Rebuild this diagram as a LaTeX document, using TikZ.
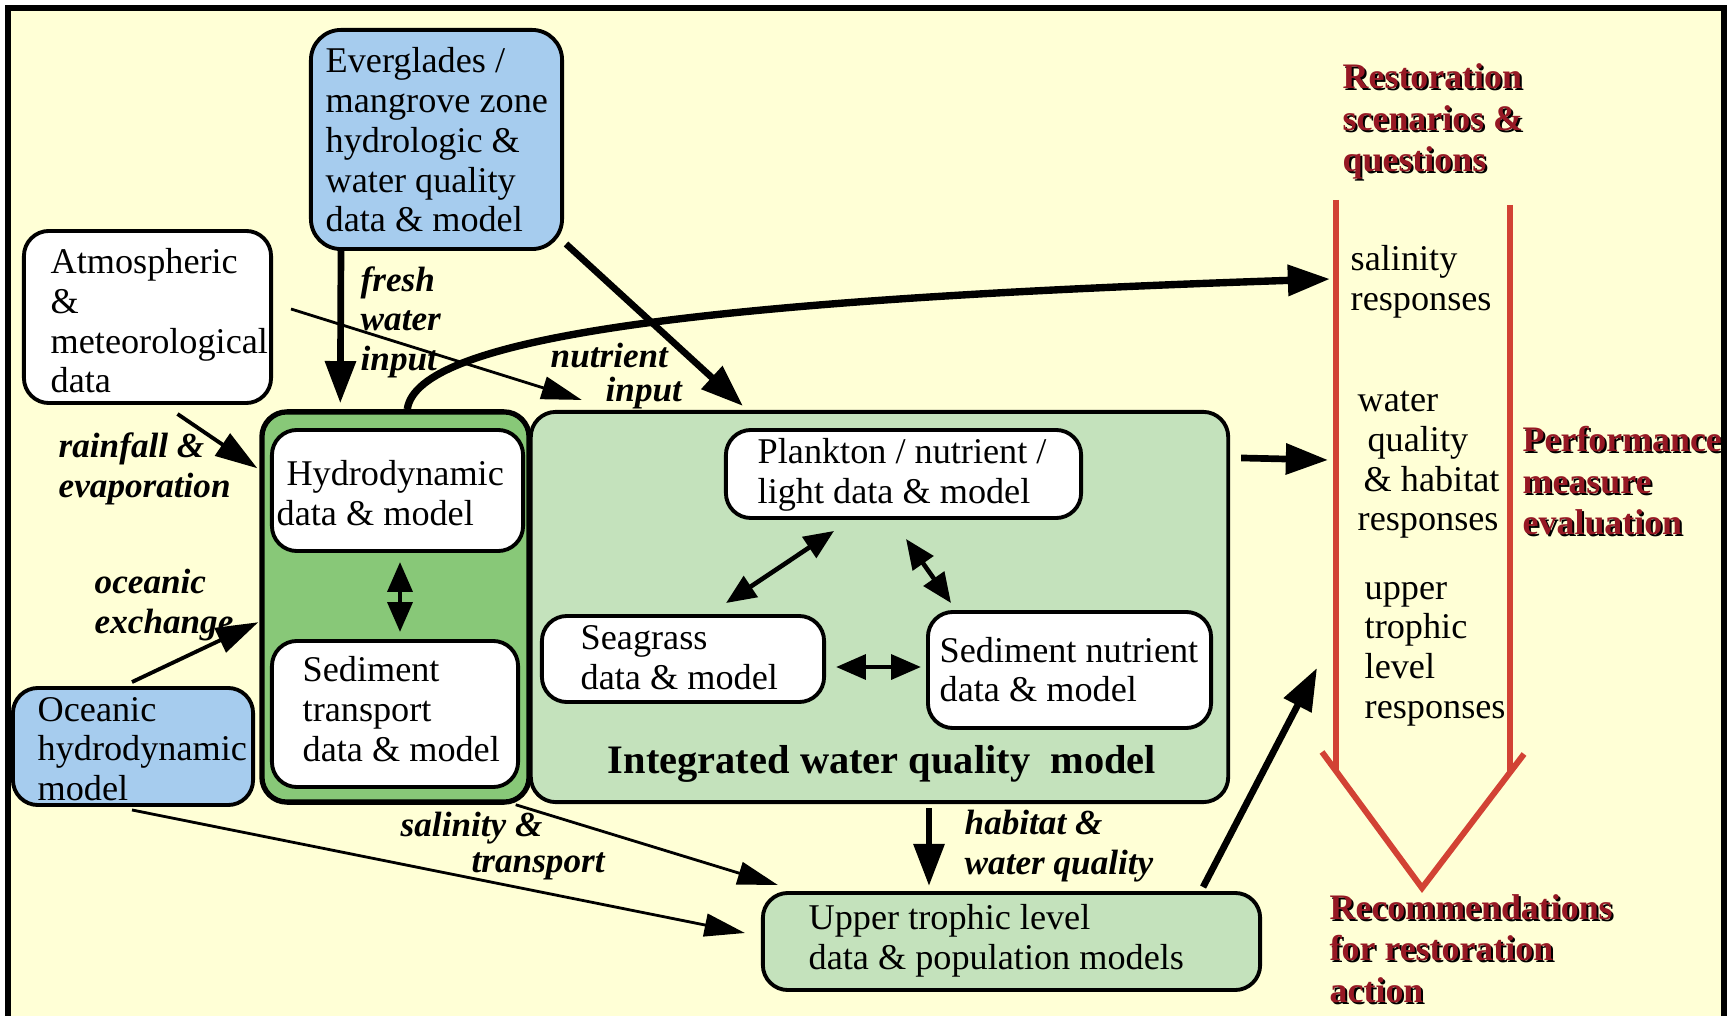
\documentclass[tikz,border=0pt]{standalone}
\usepackage{fontspec}
\setmainfont{Liberation Serif}
\usetikzlibrary{arrows.meta,calc}
\definecolor{bgY}{RGB}{255,255,214}
\definecolor{bluebox}{RGB}{166,204,238}
\definecolor{greenD}{RGB}{136,200,120}
\definecolor{greenL}{RGB}{196,226,188}
\definecolor{redA}{RGB}{210,66,52}
\definecolor{redT}{RGB}{150,24,36}
\begin{document}
\begin{tikzpicture}[x=0.01cm,y=-0.01cm,
  font=\fontsize{10.3}{11.3}\selectfont,
  box/.style={draw, line width=1.1pt, rounded corners=0.25cm, inner sep=0pt},
  txt/.style={align=left, inner sep=0pt, anchor=west},
  lab/.style={txt, font=\fontsize{10}{11.2}\selectfont\bfseries\itshape},
  redbold/.style={txt, font=\fontsize{10.2}{11.8}\selectfont\bfseries, text=redT},
  redshadow/.style={redbold, text=black},
  bigarr/.style={line width=1.9pt, -{Triangle[length=12pt,width=8.5pt]}},
  thinarr/.style={line width=0.8pt, -{Triangle[length=11.5pt,width=6.5pt]}},
  medarr/.style={line width=1.1pt, -{Triangle[length=12pt,width=7.5pt]}},
  dblarr/.style={line width=1.3pt, {Triangle[length=8.5pt,width=7pt]}-{Triangle[length=8.5pt,width=7pt]}},
  redline/.style={draw=redA, line width=1.7pt}
]
\useasboundingbox (0,0) rectangle (1728,1016);
\fill[white] (0,0) rectangle (1728,1016);
\fill[bgY] (8,8) rectangle (1724,1040);
\draw[line width=1.5pt] (8,8) rectangle (1724,1040);

% boxes
\node[box, fill=bluebox, rounded corners=0.3cm, minimum width=2.51cm, minimum height=2.19cm] (evg) at (436.5,139.5) {};
\node[txt] (evgT) at (325,140) {Everglades /\\mangrove zone\\hydrologic \&\\water quality\\data \& model};
\node[box, fill=white, minimum width=2.47cm, minimum height=1.72cm] (atm) at (147.5,317) {};
\node[txt] (atmT) at (50,321) {Atmospheric\\\&\\meteorological\\data};
\node[box, fill=greenD, line width=1.5pt, minimum width=2.67cm, minimum height=3.9cm] (hydgrp) at (395.5,607) {};
\node[box, fill=white, minimum width=2.51cm, minimum height=1.21cm] (hyd) at (397.5,490.5) {};
\node[txt] (hydT) at (276,493) {\hspace*{2.8pt}Hydrodynamic\\data \& model};
\node[box, fill=white, minimum width=2.46cm, minimum height=1.46cm] (sedt) at (395,714) {};
\node[txt] (sedtT) at (302,709) {Sediment\\transport\\data \& model};
\node[box, fill=greenL, minimum width=6.97cm, minimum height=3.9cm] (iwq) at (879.5,607) {};
\node[font=\fontsize{11.5}{13}\selectfont\bfseries, inner sep=0pt] (iwqT) at (882,764) {Integrated water quality\ \ model};
\node[box, fill=white, minimum width=3.55cm, minimum height=0.88cm] (plk) at (903.5,474) {};
\node[txt] (plkT) at (757,475) {Plankton / nutrient /\\light data \& model};
\node[box, fill=white, minimum width=2.82cm, minimum height=0.86cm] (sea) at (683,659) {};
\node[txt] (seaT) at (580,658) {Seagrass\\data \& model};
\node[box, fill=white, minimum width=2.83cm, minimum height=1.16cm] (sdn) at (1069.5,670) {};
\node[txt] (sdnT) at (939,669.5) {Sediment nutrient\\data \& model};
\node[box, fill=greenL, minimum width=4.97cm, minimum height=0.97cm] (upt) at (1011.5,941.5) {};
\node[txt] (uptT) at (808,941) {Upper trophic level\\data \& population models};
\node[box, fill=bluebox, minimum width=2.40cm, minimum height=1.17cm] (ocn) at (133,746.5) {};
\node[txt] (ocnT) at (37,749) {Oceanic\\hydrodynamic\\model};

% right column
\draw[redline] (1336,200) -- (1336,772);
\draw[redline] (1510,205) -- (1510,772);
\draw[redline, line join=miter] (1322,752) -- (1422,888) -- (1524,754);

\node[redshadow] at (1344,123.5) {Restoration\\scenarios \&\\questions};
\node[redbold] (restT) at (1342,121.5) {Restoration\\scenarios \&\\questions};
\node[redshadow] at (1524,483) {Performance\\measure\\evaluation};
\node[redbold] (perfT) at (1522,481) {Performance\\measure\\evaluation};
\node[redshadow] at (1331,950.5) {Recommendations\\for restoration\\action};
\node[redbold] (recT) at (1329,948.5) {Recommendations\\for restoration\\action};

\node[txt] (salT) at (1350,281.5) {salinity\\responses};
\node[txt] (wqT) at (1357,465) {water\\\hspace*{2.8pt}quality\\\hspace*{1.7pt}\& habitat\\responses};
\node[txt] (utT) at (1364,654) {upper\\trophic\\level\\responses};

\coordinate (salIn) at (1330,279);
\coordinate (wqIn) at (1328,460);
\coordinate (utIn) at (1317,668);

% connectors
\draw[bigarr] ($(evg.south west)+(32,0)$) -- ($(hydgrp.north west)+(81,-6)$);
\draw[bigarr] ($(evg.south east)+(2,-7)$) -- ($(iwq.north west)+(214,-4)$);
\draw[thinarr] ($(atm.east)+(18,-8)$) -- ($(iwq.north west)+(53,-10)$);
\draw[medarr] ($(atm.south)+(30,9)$) -- ($(hydgrp.north west)+(-2,59)$);
\draw[medarr] ($(ocn.north)+(-1,-4)$) -- ($(hydgrp.north west)+(-1,213)$);
\draw[bigarr, line width=2.1pt] ($(hydgrp.north west)+(148,0)$) .. controls ($(hydgrp.north west)+(158,-72)$) and (700,300) .. (salIn);
\draw[bigarr] ($(iwq.north east)+(11,48)$) -- (wqIn);
\draw[bigarr] ($(upt.north east)+(-59,-4)$) -- (utIn);
\draw[bigarr] ($(iwq.south)+(49.5,4)$) -- ($(upt.north)+(-82.5,-5)$);
\draw[thinarr] ($(hydgrp.south east)+(-16,0)$) -- ($(upt.north west)+(17,-6)$);
\draw[thinarr] ($(ocn.south)+(-1,3)$) -- ($(upt.west)+(-16,-8.5)$);
\draw[dblarr] ($(hyd.south)+(2.5,9)$) -- ($(sedt.north)+(5,-7)$);
\draw[dblarr] ($(plk.south)+(-69.5,11)$) -- ($(sea.north)+(43,-11)$);
\draw[dblarr] ($(plk.south)+(2.5,19)$) -- ($(sdn.north west)+(25,-7)$);
\draw[dblarr] ($(sea.east)+(10,8)$) -- ($(sdn.west)+(-5,-3)$);

% labels
\node[lab] (lFresh) at (360,322) {fresh\\water\\input};
\node[lab] (lNut1) at (550,356) {nutrient};
\node[lab] (lNut2) at (605,393) {input};
\node[lab] (lRain) at (58,469) {rainfall \&\\evaporation};
\node[lab] (lOce) at (94,605) {oceanic\\exchange};
\node[lab] (lSal1) at (400,828) {salinity \&};
\node[lab] (lSal2) at (471,866) {transport};
\node[lab] (lHab) at (964,846) {habitat \&\\water quality};
\end{tikzpicture}
\end{document}
